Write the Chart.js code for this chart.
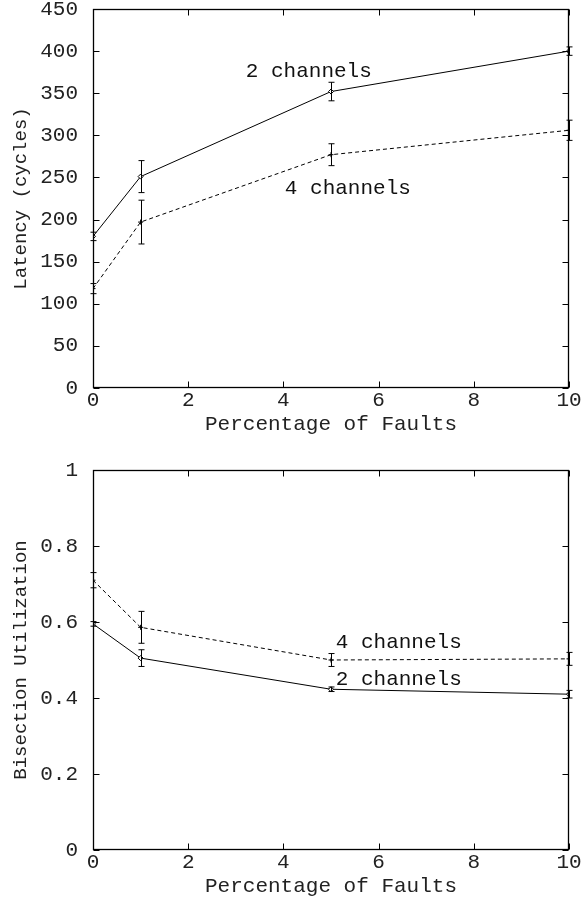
<!DOCTYPE html>
<html>
<head>
<meta charset="utf-8">
<script src="https://cdn.jsdelivr.net/npm/chart.js@4.4.1/dist/chart.umd.min.js"></script>
<style>
    body { margin: 0; background: #fff; }
    .box { position: relative; width: 587px; }
    canvas { display: block; }
</style>
</head>
<body>
<div class="box" style="height:452px"><canvas id="latencyChart"></canvas></div>
<div class="box" style="height:453px"><canvas id="utilChart"></canvas></div>
<script>
// data
const faults = [0, 1, 5, 10];
const latency2 = [180, 251, 352, 400];
const latency2Err = [5, 19, 11, 5];
const latency4 = [118, 197, 277, 306];
const latency4Err = [6, 26, 13, 12];
const util2 = [0.595, 0.505, 0.423, 0.41];
const util2Err = [0.006, 0.022, 0.006, 0.01];
const util4 = [0.71, 0.586, 0.50, 0.503];
const util4Err = [0.02, 0.042, 0.017, 0.017];
const latencyTicks = [0, 50, 100, 150, 200, 250, 300, 350, 400, 450];
const utilTicks = [0, 0.2, 0.4, 0.6, 0.8, 1];
const faultTicks = [0, 2, 4, 6, 8, 10];

const FONT = 'Liberation Mono, Courier New, monospace';

// errorbars, inward tick marks, frame and in-plot labels
const gnuplotLook = {
    id: 'gnuplotLook',
    afterDatasetsDraw(chart) {
        const ctx = chart.ctx;
        const xs = chart.scales.x, ys = chart.scales.y;
        ctx.save();
        ctx.strokeStyle = '#000';
        ctx.lineWidth = 1;
        chart.data.datasets.forEach(ds => {
            ds.data.forEach((p, i) => {
                const e = ds.errors[i];
                const px = Math.round(xs.getPixelForValue(p.x)) + 0.5;
                const y1 = ys.getPixelForValue(p.y + e);
                const y2 = ys.getPixelForValue(p.y - e);
                ctx.beginPath();
                ctx.moveTo(px, y1); ctx.lineTo(px, y2);
                ctx.moveTo(px - 3, y1); ctx.lineTo(px + 3, y1);
                ctx.moveTo(px - 3, y2); ctx.lineTo(px + 3, y2);
                ctx.stroke();
            });
        });
        ctx.restore();
    },
    afterDraw(chart, args, opts) {
        const ctx = chart.ctx;
        const a = chart.chartArea;
        const xs = chart.scales.x, ys = chart.scales.y;
        const L = Math.round(a.left) + 0.5, R = Math.round(a.right) - 0.5;
        const T = Math.round(a.top) + 0.5, B = Math.round(a.bottom) - 0.5;
        ctx.save();
        ctx.strokeStyle = '#000';
        ctx.lineWidth = 1;
        ctx.beginPath();
        ys.ticks.forEach(t => {
            const y = Math.round(ys.getPixelForValue(t.value)) + 0.5;
            ctx.moveTo(L, y); ctx.lineTo(L + 6, y);
            ctx.moveTo(R, y); ctx.lineTo(R - 6, y);
        });
        xs.ticks.forEach(t => {
            const x = Math.round(xs.getPixelForValue(t.value)) + 0.5;
            ctx.moveTo(x, B); ctx.lineTo(x, B - 6);
            ctx.moveTo(x, T); ctx.lineTo(x, T + 6);
        });
        ctx.stroke();
        ctx.lineWidth = 1.3;
        ctx.strokeRect(L, T, R - L, B - T);
        ctx.fillStyle = '#111';
        ctx.font = '21px ' + FONT;
        ctx.textBaseline = 'middle';
        ctx.textAlign = 'left';
        (opts.labels || []).forEach(l => {
            ctx.fillText(l.text, xs.getPixelForValue(l.x), ys.getPixelForValue(l.y));
        });
        ctx.restore();
    }
};

function pts(ys) {
    return faults.map((x, i) => ({ x: x, y: ys[i] }));
}

function makeChart(id, cfg) {
    return new Chart(document.getElementById(id), {
        type: 'line',
        data: {
            datasets: [{
                label: '2 channels',
                data: pts(cfg.v2),
                errors: cfg.e2,
                borderColor: '#000',
                backgroundColor: '#fff',
                borderWidth: 1,
                pointStyle: 'rectRot',
                pointRadius: 2.5,
                pointBorderColor: '#000',
                tension: 0
            }, {
                label: '4 channels',
                data: pts(cfg.v4),
                errors: cfg.e4,
                borderColor: '#000',
                borderWidth: 1,
                borderDash: [4, 3],
                pointStyle: 'cross',
                pointRadius: 2.5,
                pointBorderColor: '#000',
                tension: 0
            }]
        },
        options: {
            responsive: true,
            maintainAspectRatio: false,
            animation: false,
            layout: { padding: { top: cfg.padTop, right: 18, left: 0, bottom: 0 } },
            plugins: {
                legend: { display: false },
                tooltip: { enabled: false },
                gnuplotLook: { labels: cfg.labels }
            },
            scales: {
                x: {
                    type: 'linear',
                    min: 0, max: 10,
                    afterBuildTicks: s => { s.ticks = faultTicks.map(v => ({ value: v })); },
                    afterFit: s => { s.height = cfg.xHeight; s.paddingLeft = 0; s.paddingRight = 0; },
                    grid: { display: false, drawTicks: false },
                    border: { display: false },
                    ticks: { color: '#222', padding: 0, maxRotation: 0, font: { family: FONT, size: 21 } },
                    title: {
                        display: true, text: 'Percentage of Faults', color: '#222',
                        font: { family: FONT, size: 21 },
                        padding: { top: 0, bottom: cfg.xTitlePad }
                    }
                },
                y: {
                    type: 'linear',
                    min: cfg.yTicks[0], max: cfg.yTicks[cfg.yTicks.length - 1],
                    afterBuildTicks: s => { s.ticks = cfg.yTicks.map(v => ({ value: v })); },
                    afterFit: s => { s.width = 93; s.paddingTop = 0; s.paddingBottom = 0; },
                    grid: { display: false, drawTicks: false },
                    border: { display: false },
                    ticks: {
                        color: '#222', padding: 15, font: { family: FONT, size: 21 },
                        callback: v => String(Math.round(v * 100) / 100)
                    },
                    title: {
                        display: true, text: cfg.yTitle, color: '#222',
                        font: { family: FONT, size: 19 },
                        padding: { top: 10, bottom: 0 }
                    }
                }
            }
        },
        plugins: [gnuplotLook]
    });
}

makeChart('latencyChart', {
    v2: latency2, e2: latency2Err, v4: latency4, e4: latency4Err,
    yTicks: latencyTicks, yTitle: 'Latency (cycles)',
    padTop: 9, xHeight: 64, xTitlePad: 15,
    labels: [
        { text: '2 channels', x: 3.21, y: 376 },
        { text: '4 channels', x: 4.03, y: 237 }
    ]
});

makeChart('utilChart', {
    v2: util2, e2: util2Err, v4: util4, e4: util4Err,
    yTicks: utilTicks, yTitle: 'Bisection Utilization',
    padTop: 18, xHeight: 55, xTitlePad: 6,
    labels: [
        { text: '4 channels', x: 5.1, y: 0.545 },
        { text: '2 channels', x: 5.1, y: 0.45 }
    ]
});
</script>
</body>
</html>
